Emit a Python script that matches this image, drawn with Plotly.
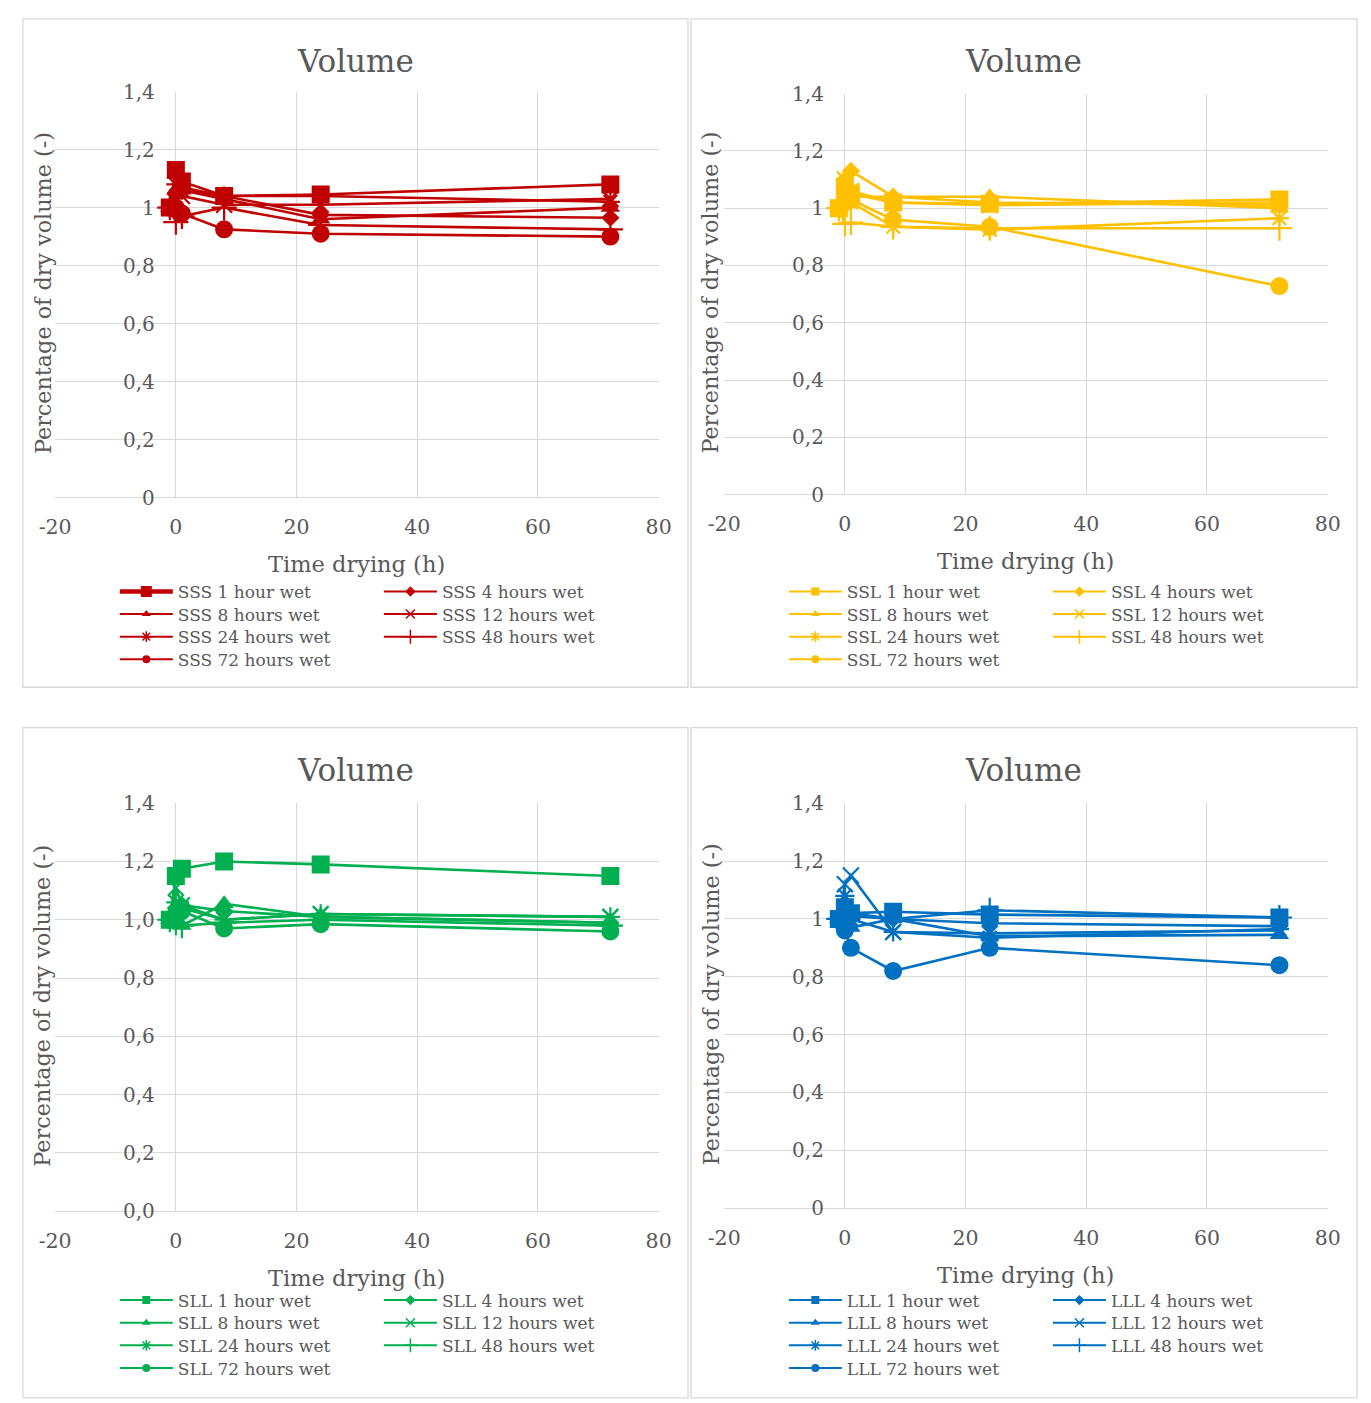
import plotly.graph_objects as go

W, H = 1371, 1403

# Drying times (h); -1 is the dry reference point before wetting
time_h = [-1, 0, 1, 8, 24, 72]

wet_labels = ["1 hour wet", "4 hours wet", "8 hours wet", "12 hours wet",
              "24 hours wet", "48 hours wet", "72 hours wet"]

# Volume relative to dry volume, one row per wetting duration
sss_volume = [
    [1.00, 1.13, 1.09, 1.04, 1.045, 1.08],
    [1.00, 1.05, 1.07, 1.04, 0.975, 0.965],
    [1.00, 1.06, 1.06, 1.03, 0.96, 1.00],
    [1.00, 1.02, 1.04, 1.01, 1.01, 1.03],
    [1.00, 1.08, 1.06, 1.04, 1.04, 1.02],
    [1.00, 0.95, 0.97, 1.00, 0.94, 0.925],
    [1.00, 1.00, 0.98, 0.925, 0.91, 0.90],
]
ssl_volume = [
    [1.00, 1.075, 1.05, 1.02, 1.015, 1.03],
    [1.00, 1.10, 1.13, 1.04, 1.02, 1.01],
    [1.00, 1.05, 1.04, 1.04, 1.04, 1.00],
    [1.00, 1.10, 1.06, 1.02, 1.01, 1.02],
    [1.00, 1.03, 1.02, 0.935, 0.925, 0.965],
    [1.00, 0.945, 0.95, 0.935, 0.93, 0.93],
    [1.00, 1.02, 1.03, 0.96, 0.935, 0.728],
]
sll_volume = [
    [1.00, 1.15, 1.175, 1.20, 1.19, 1.15],
    [1.00, 1.04, 1.05, 1.03, 1.01, 0.99],
    [1.00, 1.00, 0.98, 1.055, 1.01, 0.99],
    [1.00, 1.11, 1.05, 1.00, 1.02, 1.01],
    [1.00, 1.06, 1.04, 1.00, 1.02, 1.01],
    [1.00, 0.99, 0.98, 0.99, 1.00, 0.98],
    [1.00, 1.02, 1.03, 0.97, 0.985, 0.96],
]
lll_volume = [
    [1.00, 1.04, 1.02, 1.025, 1.015, 1.005],
    [1.00, 1.00, 1.01, 1.00, 0.985, 0.975],
    [1.00, 0.98, 0.97, 1.00, 0.94, 0.945],
    [1.00, 1.12, 1.15, 0.955, 0.95, 0.96],
    [1.00, 1.08, 1.00, 0.955, 0.935, 0.965],
    [1.00, 1.02, 1.02, 1.00, 1.03, 1.005],
    [1.00, 0.96, 0.90, 0.82, 0.90, 0.84],
]

x_ticks = [-20, 0, 20, 40, 60, 80]
y_ticks = [0, 0.2, 0.4, 0.6, 0.8, 1.0, 1.2, 1.4]
y_text_general = ["0", "0,2", "0,4", "0,6", "0,8", "1", "1,2", "1,4"]
y_text_fixed = ["0,0", "0,2", "0,4", "0,6", "0,8", "1,0", "1,2", "1,4"]

FONT = "DejaVu Serif"
GREY_TEXT = "#595959"
GRID = "#D9D9D9"

symbols = ["square", "diamond", "triangle-up", "x-thin", "asterisk", "cross-thin", "circle"]
sizes = [18, 14, 17, 16, 16, 18, 18]
legend_sizes = [8, 8, 8, 9, 9, 10, 8]

# panel boxes, plot areas (pixels)
panels = [
    dict(name="SSS", data=sss_volume, color="#C00000", ytext=y_text_general,
         box=(6, 7, 686, 687), plot=(39, 81, 656, 494), legend_top=590),
    dict(name="SSL", data=ssl_volume, color="#FFC000", ytext=y_text_general,
         box=(689, 7, 1370, 687), plot=(723, 83, 1340, 491), legend_top=590),
    dict(name="SLL", data=sll_volume, color="#00B050", ytext=y_text_fixed,
         box=(6, 728, 686, 1410), plot=(39, 805, 656, 1220), legend_top=1311),
    dict(name="LLL", data=lll_volume, color="#0070C0", ytext=y_text_general,
         box=(689, 728, 1370, 1410), plot=(723, 805, 1340, 1217), legend_top=1311),
]

# legend slot for each series: (column, row)
legend_slots = [(0, 0), (1, 0), (0, 1), (1, 1), (0, 2), (1, 2), (0, 3)]
ROW_STEP = 23


def px(x):
    return x / W


def py(y):
    return 1 - y / H


fig = go.Figure()
layout = dict(width=W, height=H, margin=dict(l=0, r=0, t=0, b=0),
              paper_bgcolor="white", plot_bgcolor="white",
              font=dict(family=FONT, color=GREY_TEXT), shapes=[], annotations=[])

legend_no = 0
for p_i, p in enumerate(panels):
    n = "" if p_i == 0 else str(p_i + 1)
    xa, ya = "x" + n, "y" + n
    x0, y0, x1, y1 = p["plot"]
    xzero = x0 + (0 - (-20)) / 100 * (x1 - x0)

    layout["xaxis" + n] = dict(
        domain=[px(x0), px(x1)], range=[-20, 80], anchor=ya,
        tickvals=x_ticks, ticktext=[str(v) for v in x_ticks],
        showgrid=True, gridcolor=GRID, gridwidth=1.3,
        zeroline=True, zerolinecolor=GRID, zerolinewidth=1.3,
        showline=False, ticks="", ticklabelstandoff=15,
        tickfont=dict(size=20.5, color=GREY_TEXT, family=FONT), fixedrange=True)
    layout["yaxis" + n] = dict(
        domain=[py(y1), py(y0)], range=[0, 1.4], anchor="free", position=px(xzero),
        tickvals=y_ticks, ticktext=p["ytext"],
        showgrid=True, gridcolor=GRID, gridwidth=1.3,
        zeroline=True, zerolinecolor=GRID, zerolinewidth=1.3,
        showline=False, ticks="", ticklabelstandoff=21,
        tickfont=dict(size=20, color=GREY_TEXT, family=FONT), fixedrange=True)

    bx0, by0, bx1, by1 = p["box"]
    layout["shapes"].append(dict(type="rect", xref="paper", yref="paper",
                                 x0=px(bx0), x1=px(bx1), y0=py(by1), y1=py(by0),
                                 line=dict(color=GRID, width=1.3), layer="below"))
    cx = (bx0 + bx1) / 2
    layout["annotations"] += [
        dict(text="Volume", xref="paper", yref="paper", x=px(cx), y=py(by0 + 43),
             showarrow=False, font=dict(size=31, color=GREY_TEXT, family=FONT),
             xanchor="center", yanchor="middle"),
        dict(text="Time drying (h)", xref="paper", yref="paper", x=px((x0 + x1) / 2),
             y=py(y1 + 68), showarrow=False, xanchor="center", yanchor="middle",
             font=dict(size=22.5, color=GREY_TEXT, family=FONT)),
        dict(text="Percentage of dry volume (-)", xref="paper", yref="paper",
             x=px(bx0 + 20), y=py((y0 + y1) / 2 - 2), textangle=-90, showarrow=False,
             xanchor="center", yanchor="middle",
             font=dict(size=22.3, color=GREY_TEXT, family=FONT)),
    ]

    for s_i, vals in enumerate(p["data"]):
        sym = symbols[s_i]
        thin = sym in ("x-thin", "asterisk", "cross-thin")
        fig.add_trace(go.Scatter(
            x=time_h, y=vals, xaxis=xa, yaxis=ya, mode="lines+markers",
            line=dict(color=p["color"], width=2.6),
            marker=dict(symbol=sym, size=sizes[s_i], color=p["color"],
                        line=dict(color=p["color"], width=2.2 if thin else 0)),
            showlegend=False, hoverinfo="x+y"))

    # one legend box per entry, laid out in two columns
    for s_i in range(len(p["data"])):
        col, row = legend_slots[s_i]
        legend_no += 1
        key = "legend" if legend_no == 1 else f"legend{legend_no}"
        lx = x0 + 61 + col * 270
        ly = p["legend_top"] + row * ROW_STEP
        layout[key] = dict(x=px(lx), y=py(ly), xanchor="left", yanchor="middle",
                           orientation="v", bgcolor="rgba(0,0,0,0)", borderwidth=0,
                           itemwidth=53, itemclick=False, itemdoubleclick=False,
                           font=dict(size=17, color=GREY_TEXT, family=FONT))
        sym = symbols[s_i]
        thin = sym in ("x-thin", "asterisk", "cross-thin")
        thick = (p_i == 0 and s_i == 0)
        fig.add_trace(go.Scatter(
            x=[None], y=[None], xaxis=xa, yaxis=ya, mode="lines+markers",
            name=f"{p['name']} {wet_labels[s_i]}", legend=key,
            line=dict(color=p["color"], width=4.5 if thick else 2),
            marker=dict(symbol=sym, size=11 if thick else legend_sizes[s_i],
                        color=p["color"],
                        line=dict(color=p["color"], width=1.5 if thin else 0)),
            showlegend=True))

fig.update_layout(**layout)
fig.write_html("out.html")
